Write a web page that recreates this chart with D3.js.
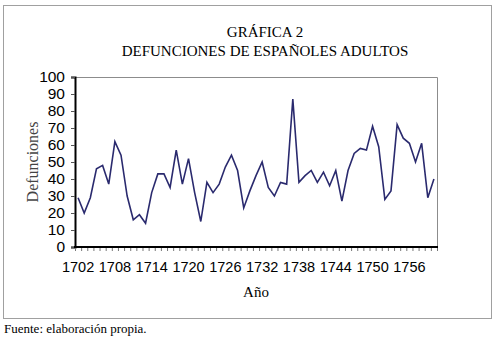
<!DOCTYPE html>
<html>
<head>
<meta charset="utf-8">
<script src="https://cdn.jsdelivr.net/npm/d3@7"></script>
<style>
  body { margin: 0; background: #fff; }
  svg { display: block; }
</style>
</head>
<body>
<div id="chart"></div>
<script>
// años y defunciones
let years = d3.range(1702, 1761);
let deaths = [29, 20, 29, 46, 48, 37, 62, 54, 30, 16,
              19, 14, 32, 43, 43, 35, 57, 37, 52, 32,
              15, 38, 32, 37, 47, 54, 45, 23, 33, 42,
              50, 35, 30, 38, 37, 87, 38, 42, 45, 38,
              44, 36, 45, 27, 45, 55, 58, 57, 71, 59,
              28, 33, 72, 64, 61, 50, 61, 29, 40];
let yTicks = [0, 10, 20, 30, 40, 50, 60, 70, 80, 90, 100];
let xLabels = [1702, 1708, 1714, 1720, 1726, 1732, 1738, 1744, 1750, 1756];

let dim = { width: 498, height: 338 };
let plot = { left: 75, right: 437, top: 77, bottom: 247 };

let svg = d3.select('#chart').append('svg')
    .attr('width', dim.width)
    .attr('height', dim.height);

// marco exterior
svg.append('rect')
    .attr('x', 3.5).attr('y', 5.5)
    .attr('width', 488).attr('height', 313)
    .attr('fill', 'none')
    .attr('stroke', '#a0a0a0');

let data = years.map((y, i) => ({ year: y, value: deaths[i] }));

let scaleX = d3.scaleBand()
    .domain(years)
    .range([plot.left, plot.right]);

let scaleY = d3.scaleLinear()
    .domain([0, 100])
    .range([plot.bottom, plot.top]);

// borde gris del área de trazado
svg.append('path')
    .attr('d', `M${plot.left},${plot.top + 0.5}H${plot.right + 0.5}V${plot.bottom}`)
    .attr('fill', 'none')
    .attr('stroke', '#8c8c8c')
    .attr('stroke-width', 1);

// eje Y
let axisY = svg.append('g')
    .attr('transform', `translate(${plot.left},0)`)
    .call(d3.axisLeft(scaleY).tickValues(yTicks).tickSize(4).tickPadding(6));
axisY.select('.domain').attr('stroke', '#000').attr('stroke-width', 2);
axisY.selectAll('.tick line').attr('stroke', '#555');
axisY.selectAll('.tick text')
    .attr('font-family', 'Liberation Sans, Arial, sans-serif')
    .attr('font-size', 15.5)
    .attr('fill', '#000');

// eje X: marcas en cada categoría, etiquetas cada 6 años
let axisX = svg.append('g')
    .attr('transform', `translate(0,${plot.bottom})`)
    .call(d3.axisBottom(scaleX).tickSize(0).tickPadding(15)
        .tickValues(xLabels));
axisX.select('.domain').remove();
axisX.selectAll('.tick text')
    .attr('font-family', 'Liberation Sans, Arial, sans-serif')
    .attr('font-size', 14.5)
    .attr('fill', '#000');

svg.append('g')
    .selectAll('line')
    .data(years.concat([1761]))
    .join('line')
    .attr('x1', (d, i) => plot.left + i * scaleX.step() + 0.5)
    .attr('x2', (d, i) => plot.left + i * scaleX.step() + 0.5)
    .attr('y1', plot.bottom)
    .attr('y2', plot.bottom + 4)
    .attr('stroke', '#777');

svg.append('line')
    .attr('x1', plot.left - 1).attr('x2', plot.right + 1)
    .attr('y1', plot.bottom).attr('y2', plot.bottom)
    .attr('stroke', '#000').attr('stroke-width', 2);

// serie
let line = d3.line()
    .x(d => scaleX(d.year) + scaleX.bandwidth() / 2)
    .y(d => scaleY(d.value));

svg.append('path')
    .datum(data)
    .attr('d', line)
    .attr('fill', 'none')
    .attr('stroke', '#2a2a6e')
    .attr('stroke-width', 1.6)
    .attr('stroke-linejoin', 'miter');

// textos
let serif = 'Liberation Serif, Times New Roman, serif';
svg.append('text')
    .attr('x', 265).attr('y', 37)
    .attr('text-anchor', 'middle')
    .attr('font-family', serif).attr('font-size', 15)
    .text('GRÁFICA 2');
svg.append('text')
    .attr('x', 265).attr('y', 56)
    .attr('text-anchor', 'middle')
    .attr('font-family', serif).attr('font-size', 15)
    .text('DEFUNCIONES DE ESPAÑOLES ADULTOS');

svg.append('text')
    .attr('transform', `translate(38,${(plot.top + plot.bottom) / 2}) rotate(-90)`)
    .attr('text-anchor', 'middle')
    .attr('font-family', serif).attr('font-size', 16)
    .attr('fill', '#444')
    .text('Defunciones');

svg.append('text')
    .attr('x', 256).attr('y', 297)
    .attr('text-anchor', 'middle')
    .attr('font-family', serif).attr('font-size', 15)
    .text('Año');

svg.append('text')
    .attr('x', 4).attr('y', 333)
    .attr('font-family', serif).attr('font-size', 13)
    .text('Fuente: elaboración propia.');
</script>
</body>
</html>
